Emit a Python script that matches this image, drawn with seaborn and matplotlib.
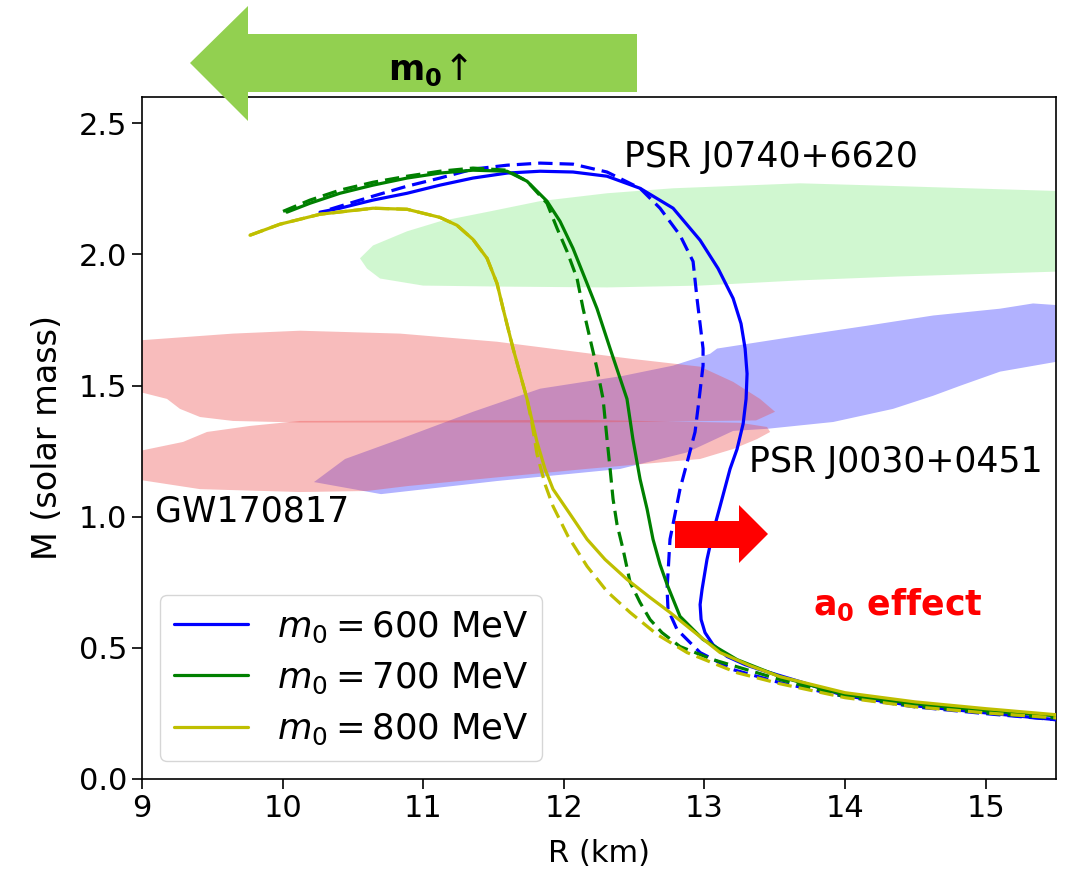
import numpy as np
import pandas as pd
import matplotlib
matplotlib.use("Agg")
import matplotlib.pyplot as plt
from matplotlib.patches import Polygon
import seaborn as sns

# ---------------- data ----------------
# m0 = 600 MeV
R_600_solid = [10.266, 10.408, 10.643, 10.885, 11.119, 11.354, 11.596, 11.831, 12.065, 12.307, 12.542, 12.777, 12.969,
               13.097, 13.204, 13.260, 13.289, 13.303, 13.296, 13.275, 13.232, 13.182, 13.111, 13.061, 13.018, 12.983,
               12.969, 12.976, 13.004, 13.061, 13.161, 13.289, 13.395, 13.680, 14.000, 14.498, 15.003, 15.501]
M_600_solid = [2.161, 2.176, 2.207, 2.233, 2.264, 2.291, 2.310, 2.317, 2.314, 2.298, 2.252, 2.176, 2.054,
               1.946, 1.832, 1.736, 1.641, 1.545, 1.449, 1.354, 1.258, 1.182, 1.040, 0.941, 0.837, 0.723,
               0.665, 0.608, 0.558, 0.512, 0.467, 0.436, 0.417, 0.371, 0.317, 0.279, 0.252, 0.226]
R_600_dash = [10.337, 10.643, 10.885, 11.119, 11.354, 11.596, 11.831, 12.065, 12.307, 12.542, 12.684, 12.826, 12.919,
              12.947, 12.990, 12.990, 12.962, 12.933, 12.883, 12.826, 12.755, 12.734, 12.741, 12.805, 12.969, 13.204,
              13.538, 14.000, 14.498, 15.003, 15.501]
M_600_dash = [2.172, 2.222, 2.260, 2.291, 2.325, 2.340, 2.348, 2.344, 2.314, 2.252, 2.176, 2.073, 1.973,
              1.832, 1.641, 1.576, 1.449, 1.323, 1.220, 1.105, 0.914, 0.723, 0.646, 0.570, 0.482, 0.417,
              0.367, 0.314, 0.275, 0.249, 0.226]
# m0 = 700 MeV
R_700_solid = [10.031, 10.195, 10.408, 10.643, 10.885, 11.119, 11.354, 11.596, 11.738, 11.880, 11.973, 12.065, 12.165,
               12.236, 12.329, 12.449, 12.491, 12.542, 12.592, 12.634, 12.684, 12.734, 12.826, 12.990, 13.232, 13.538,
               14.000, 14.498, 15.003, 15.501]
M_700_solid = [2.161, 2.195, 2.233, 2.264, 2.291, 2.310, 2.321, 2.317, 2.279, 2.203, 2.126, 2.023, 1.889,
               1.793, 1.641, 1.449, 1.296, 1.143, 1.029, 0.914, 0.818, 0.742, 0.620, 0.532, 0.455, 0.390,
               0.321, 0.287, 0.260, 0.241]
R_700_dash = [10.003, 10.195, 10.408, 10.643, 10.885, 11.119, 11.354, 11.596, 11.738, 11.880, 11.952, 12.023, 12.094,
              12.137, 12.186, 12.236, 12.279, 12.307, 12.329, 12.350, 12.378, 12.421, 12.471, 12.542, 12.613, 12.698,
              12.826, 13.061, 13.538, 14.000, 14.498, 15.003, 15.501]
M_700_dash = [2.164, 2.207, 2.245, 2.275, 2.298, 2.317, 2.329, 2.321, 2.279, 2.195, 2.099, 2.011, 1.908,
              1.793, 1.679, 1.564, 1.449, 1.296, 1.182, 1.067, 0.971, 0.876, 0.750, 0.673, 0.608, 0.558,
              0.505, 0.455, 0.379, 0.314, 0.279, 0.252, 0.233]
# m0 = 800 MeV
R_800_solid = [9.768, 9.981, 10.266, 10.643, 10.885, 11.119, 11.240, 11.354, 11.454, 11.525, 11.568, 11.639, 11.738,
               11.809, 11.866, 11.923, 12.044, 12.165, 12.293, 12.449, 12.613, 12.755, 12.933, 13.111, 13.324, 13.538,
               14.000, 14.498, 15.003, 15.501]
M_800_solid = [2.073, 2.115, 2.153, 2.176, 2.172, 2.141, 2.111, 2.057, 1.985, 1.889, 1.793, 1.641, 1.449,
               1.285, 1.182, 1.105, 1.010, 0.914, 0.837, 0.761, 0.692, 0.635, 0.558, 0.482, 0.432, 0.390,
               0.329, 0.294, 0.268, 0.245]
R_800_dash = [9.768, 9.981, 10.266, 10.643, 10.885, 11.119, 11.240, 11.354, 11.454, 11.525, 11.568, 11.639, 11.738,
              11.774, 11.809, 11.866, 11.923, 12.030, 12.165, 12.307, 12.471, 12.663, 12.876, 13.232, 13.538,
              14.000, 14.498, 15.003, 15.501]
M_800_dash = [2.073, 2.115, 2.153, 2.176, 2.172, 2.141, 2.111, 2.057, 1.985, 1.889, 1.793, 1.641, 1.449,
              1.354, 1.239, 1.124, 1.040, 0.925, 0.811, 0.715, 0.635, 0.551, 0.482, 0.405, 0.363,
              0.310, 0.275, 0.252, 0.233]

legend_labels = [r"$m_0 = 600$ MeV", r"$m_0 = 700$ MeV", r"$m_0 = 800$ MeV"]

# PSR J0740+6620 region (upper edge left->right, lower edge left->right)
R_j0740_top = [10.55, 10.643, 10.885, 11.119, 11.475, 11.831, 12.307, 12.777, 13.680, 14.391, 15.55]
M_j0740_top = [1.985, 2.034, 2.088, 2.126, 2.164, 2.203, 2.233, 2.252, 2.271, 2.260, 2.241]
R_j0740_bot = [10.55, 10.600, 10.693, 10.999, 11.596, 12.307, 12.969, 13.680, 14.391, 15.55]
M_j0740_bot = [1.985, 1.946, 1.908, 1.881, 1.877, 1.874, 1.881, 1.901, 1.916, 1.935]

# PSR J0030+0451 region
R_j0030_top = [10.223, 10.444, 10.835, 11.354, 11.831, 12.421, 12.777, 13.040, 13.090, 13.680, 14.156, 14.626, 15.102, 15.337, 15.55]
M_j0030_top = [1.132, 1.220, 1.296, 1.400, 1.488, 1.537, 1.576, 1.621, 1.641, 1.690, 1.728, 1.767, 1.793, 1.813, 1.805]
R_j0030_bot = [10.223, 10.700, 11.525, 12.400, 12.876, 13.204, 13.445, 13.915, 14.341, 14.626, 14.818, 15.102, 15.55]
M_j0030_bot = [1.132, 1.086, 1.136, 1.182, 1.245, 1.327, 1.335, 1.361, 1.411, 1.461, 1.499, 1.553, 1.595]

# GW170817 (two lobes, closed outlines)
R_gw_up = [8.95, 9.647, 10.124, 10.835, 11.525, 12.478, 12.969, 13.204, 13.395, 13.502,
           13.367, 12.158, 10.835, 10.124, 9.647, 9.413, 9.270, 9.178, 8.95]
M_gw_up = [1.671, 1.698, 1.709, 1.698, 1.667, 1.602, 1.572, 1.514, 1.449, 1.400,
           1.367, 1.359, 1.359, 1.359, 1.365, 1.380, 1.411, 1.449, 1.480]
R_gw_lo = [8.95, 9.292, 9.462, 9.768, 10.124, 12.158, 13.253, 13.445, 13.467,
           13.374, 13.204, 12.969, 12.158, 11.546, 10.892, 10.600, 10.124, 9.413, 8.95]
M_gw_lo = [1.247, 1.285, 1.323, 1.346, 1.365, 1.369, 1.358, 1.342, 1.323,
           1.296, 1.258, 1.220, 1.182, 1.151, 1.117, 1.098, 1.094, 1.105, 1.143]

# ---------------- figure ----------------
sns.set_theme(style="ticks")
plt.rcParams["font.family"] = ["DejaVu Sans"]
plt.rcParams["mathtext.fontset"] = "dejavusans"
plt.rcParams["text.color"] = "black"
plt.rcParams["axes.labelcolor"] = "black"

W, H = 1084, 876
fig = plt.figure(figsize=(W / 100, H / 100), dpi=100)
ax = fig.add_axes([142 / W, (H - 779) / H, 914 / W, 682 / H])

# observational regions
ax.fill(R_j0740_top + R_j0740_bot[::-1], M_j0740_top + M_j0740_bot[::-1],
        color=(0.565, 0.933, 0.565), alpha=0.42, lw=0, zorder=1)
ax.fill(R_j0030_top + R_j0030_bot[::-1], M_j0030_top + M_j0030_bot[::-1],
        color=(0.0, 0.0, 1.0), alpha=0.30, lw=0, zorder=1)
ax.fill(R_gw_up, M_gw_up, color=(0.925, 0.29, 0.29), alpha=0.37, lw=0, zorder=1.1)
ax.fill(R_gw_lo, M_gw_lo, color=(0.925, 0.29, 0.29), alpha=0.37, lw=0, zorder=1.1)

lw = 2.3
dash = (0, (4.5, 2.2))
curves = [
    (R_600_solid, M_600_solid, R_600_dash, M_600_dash, "blue", legend_labels[0]),
    (R_700_solid, M_700_solid, R_700_dash, M_700_dash, "green", legend_labels[1]),
    (R_800_solid, M_800_solid, R_800_dash, M_800_dash, (0.75, 0.75, 0.0), legend_labels[2]),
]
handles = []
for Rs, Ms, Rd, Md, col, lab in curves:
    sns.lineplot(x=Rd, y=Md, sort=False, estimator=None, color=col, lw=lw, linestyle=dash, ax=ax, zorder=3)
    n_before = len(ax.lines)
    sns.lineplot(x=Rs, y=Ms, sort=False, estimator=None, color=col, lw=lw, ax=ax, zorder=3, label=lab)
    handles.append(ax.lines[n_before])

ax.set_xlim(9, 15.5)
ax.set_ylim(0, 2.6)
ax.set_xticks(np.arange(9, 16, 1))
ax.set_yticks(np.arange(0, 2.6, 0.5))
ax.tick_params(labelsize=22, length=7, width=1.2, colors="black")
for s in ax.spines.values():
    s.set_visible(True)
    s.set_color("black")
    s.set_linewidth(1.2)
ax.set_xlabel("R (km)", fontsize=22, labelpad=12)
ax.set_ylabel("M (solar mass)", fontsize=24, labelpad=11)

leg = ax.legend(handles=handles, labels=legend_labels, loc="lower left", fontsize=25.5,
                frameon=True, fancybox=True, edgecolor="0.8", framealpha=0.8,
                handlelength=2.1, labelspacing=0.45, borderaxespad=0.5)

# text labels
ax.text(12.43, 2.37, "PSR J0740+6620", fontsize=25, ha="left", va="center")
ax.text(13.32, 1.21, "PSR J0030+0451", fontsize=25, ha="left", va="center")
ax.text(9.09, 1.02, "GW170817", fontsize=25, ha="left", va="center")


def px(x, y):
    return (x / W, 1 - y / H)


# green arrow (m0 up)
g_pts = [px(190, 63), px(248, 6), px(248, 34), px(637, 34), px(637, 92), px(248, 92), px(248, 121)]
fig.add_artist(Polygon(g_pts, closed=True, transform=fig.transFigure, facecolor="#92d050",
                       edgecolor="none", zorder=5))
fig.text(*px(442, 80), r"m$_\mathbf{0}$", fontsize=25, fontweight="bold", ha="right", va="baseline", zorder=6)
fig.text(*px(459, 80), "↑", fontsize=26, ha="center", va="baseline", zorder=6)

# red arrow (a0 effect)
r_pts = [px(675, 521), px(739, 521), px(739, 505), px(768, 534), px(739, 563), px(739, 548), px(675, 548)]
fig.add_artist(Polygon(r_pts, closed=True, transform=fig.transFigure, facecolor="#ff0000",
                       edgecolor="none", zorder=5))
fig.text(*px(813, 615), r"a$_\mathbf{0}$ effect", fontsize=25, fontweight="bold", color="#ff0000",
         ha="left", va="baseline", zorder=6)

fig.savefig("out.png", dpi=100)
